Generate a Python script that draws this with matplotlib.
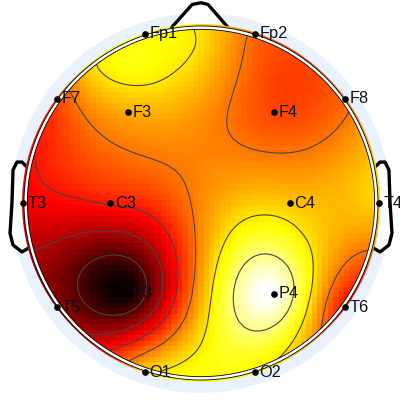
import numpy as np
import matplotlib
matplotlib.use('Agg')
import matplotlib.pyplot as plt
from matplotlib.patches import Circle, Polygon

plt.rcParams['font.family'] = ['Liberation Sans', 'DejaVu Sans']

# electrodes, head units (1 = rim)
canaux = ['Fp1', 'Fp2', 'F7', 'F3', 'F4', 'F8', 'T3', 'C3', 'C4', 'T4', 'T5', 'P3', 'P4', 'T6', 'O1', 'O2']
pos_x = [-0.315, 0.305, -0.81, -0.41, 0.41, 0.81, -1.0, -0.51, 0.50, 1.0, -0.81, -0.41, 0.41, 0.81, -0.315, 0.305]
pos_y = [0.95, 0.95, 0.585, 0.51, 0.51, 0.585, 0.0, 0.0, 0.0, 0.0, -0.585, -0.51, -0.51, -0.585, -0.95, -0.95]
valeurs = [0.74, 0.52, 0.47, 0.62, 0.47, 0.52, 0.34, 0.40, 0.66, 0.68, 0.20, 0.0, 1.0, 0.38, 0.68, 0.72]

# sites without a marker in the picture, values read from the colours
extra_x = [0.0, 0.0, 0.0, -0.37, -0.03, 0.556, -0.58]
extra_y = [0.51, 0.0, -0.51, 0.79, 0.89, -0.18, 0.76]
extra_val = [0.585, 0.57, 0.62, 0.76, 0.71, 0.72, 0.71]

# ear and nose outlines
oreille_x = [0.96, 1.006, 1.034, 1.056, 1.062, 1.073, 1.056, 1.006, 0.95]
oreille_y = [0.185, 0.23, 0.23, 0.185, 0.0, -0.17, -0.236, -0.275, -0.242]
nez_x = [-0.175, -0.05, 0.0, 0.04, 0.17]
nez_y = [0.975, 1.115, 1.125, 1.115, 0.965]

R_TETE = 0.985
niveaux = [0.11, 0.25, 0.39, 0.54, 0.71, 0.87]


def green(d):
    # r^2 (log r - 1), 0 at r = 0
    sortie = np.zeros_like(d)
    ok = d > 0
    sortie[ok] = d[ok] ** 2 * (np.log(d[ok]) - 1)
    return sortie


def biharmonique(x, y, v, gx, gy):
    # same idea as griddata v4
    pts = np.array(x) + 1j * np.array(y)
    g = green(np.abs(pts[:, None] - pts[None, :]))
    poids = np.linalg.solve(g, np.array(v))
    grille = gx + 1j * gy
    gg = green(np.abs(grille[..., None] - pts))
    return gg @ poids


fig = plt.figure(figsize=(4, 4), dpi=100)
ax = fig.add_axes([0, 0, 1, 1])
ax.set_xlim(-201 / 178, 199 / 178)
ax.set_ylim(-197 / 178, 203 / 178)
ax.axis('off')

axe = np.linspace(-1.0, 1.0, 67)
gx, gy = np.meshgrid(axe, axe)
zz = biharmonique(pos_x + extra_x, pos_y + extra_y, valeurs + extra_val, gx, gy)
zz = np.ma.masked_where(gx ** 2 + gy ** 2 > 1.07, zz)

# pale blue ring behind the head
ax.add_patch(Circle((0, 0), 1.067, fc='#e9f2fc', ec='none', zorder=0))

# ears and nose are filled white, they hide the ring
for signe in (-1, 1):
    xo = signe * np.array(oreille_x)
    ax.add_patch(Polygon(np.column_stack([xo, oreille_y]), closed=False, fc='white', ec='none', zorder=0.5))
    ax.plot(xo, oreille_y, color='black', lw=2.4, solid_joinstyle='round', zorder=0.6)
ax.add_patch(Polygon(np.column_stack([nez_x, nez_y]), closed=False, fc='white', ec='none', zorder=0.5))
ax.plot(nez_x, nez_y, color='black', lw=2.4, solid_joinstyle='round', zorder=0.6)

im = ax.pcolormesh(gx, gy, zz, cmap='hot', vmin=0, vmax=1, shading='nearest', zorder=1)
im.set_clip_path(Circle((0, 0), 1.004, transform=ax.transData))

cs = ax.contour(gx, gy, zz, levels=niveaux, colors='#454545', linewidths=0.8, zorder=2)
cs.set_clip_path(Circle((0, 0), R_TETE, transform=ax.transData))

ax.add_patch(Circle((0, 0), R_TETE, fc='none', ec='black', lw=3.0, zorder=3))
ax.add_patch(Circle((0, 0), R_TETE, fc='none', ec='white', lw=1.8, zorder=3))

ax.plot(pos_x, pos_y, 'o', color='black', ms=4.8, mec='none', zorder=6, clip_on=False)
for nom, x, y in zip(canaux, pos_x, pos_y):
    ax.text(x + 0.025, y, nom, fontsize=11.8, color='#111111', ha='left', va='center', zorder=7)

fig.savefig('out.png', dpi=100)
